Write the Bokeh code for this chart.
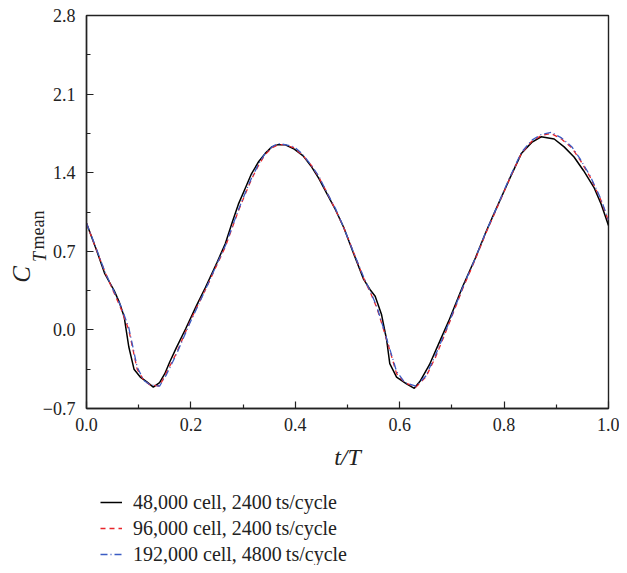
from bokeh.plotting import figure
from bokeh.layouts import column
from bokeh.models import FixedTicker, Legend, LegendItem, Range1d, Title
from bokeh.embed import file_html
from bokeh.resources import INLINE

# ---------------- data ----------------
t_48k = [0.00, 0.02, 0.035, 0.053, 0.0625, 0.072, 0.081, 0.091, 0.103, 0.115,
         0.128, 0.14, 0.15, 0.159, 0.172, 0.19, 0.21, 0.228, 0.25, 0.266,
         0.28, 0.291, 0.305, 0.316, 0.33, 0.342, 0.355, 0.367, 0.38, 0.398,
         0.415, 0.43, 0.445, 0.461, 0.477, 0.493, 0.51, 0.531, 0.543, 0.553,
         0.565, 0.575, 0.581, 0.594, 0.613, 0.628, 0.64, 0.657, 0.675, 0.694,
         0.72, 0.745, 0.765, 0.783, 0.81, 0.833, 0.853, 0.871, 0.896, 0.915,
         0.934, 0.952, 0.972, 0.986, 1.0]
ct_48k = [0.95, 0.70, 0.50, 0.35, 0.25, 0.12, -0.15, -0.35, -0.42, -0.46,
          -0.51, -0.47, -0.39, -0.29, -0.16, 0.01, 0.21, 0.38, 0.60, 0.77,
          0.97, 1.12, 1.27, 1.39, 1.50, 1.57, 1.63, 1.65, 1.65, 1.61,
          1.55, 1.46, 1.35, 1.21, 1.07, 0.91, 0.70, 0.45, 0.36, 0.30,
          0.14, -0.09, -0.30, -0.42, -0.48, -0.52, -0.45, -0.31, -0.12, 0.08,
          0.38, 0.64, 0.87, 1.06, 1.34, 1.57, 1.67, 1.72, 1.70, 1.63,
          1.54, 1.42, 1.27, 1.12, 0.93]

t_96k = [0.00, 0.02, 0.035, 0.05, 0.066, 0.081, 0.097, 0.11, 0.122, 0.14,
         0.153, 0.172, 0.197, 0.21, 0.228, 0.25, 0.266, 0.28, 0.291, 0.305,
         0.316, 0.33, 0.342, 0.355, 0.367, 0.38, 0.398, 0.415, 0.43, 0.445,
         0.461, 0.477, 0.493, 0.51, 0.531, 0.545, 0.556, 0.568, 0.581, 0.594,
         0.61, 0.631, 0.65, 0.669, 0.694, 0.72, 0.745, 0.765, 0.783, 0.81,
         0.833, 0.853, 0.871, 0.89, 0.91, 0.93, 0.946, 0.965, 0.985, 1.0]
ct_96k = [0.95, 0.70, 0.52, 0.36, 0.19, 0.0, -0.35, -0.45, -0.49, -0.50,
          -0.38, -0.21, 0.06, 0.19, 0.36, 0.58, 0.74, 0.92, 1.06, 1.22,
          1.34, 1.47, 1.56, 1.62, 1.65, 1.65, 1.62, 1.55, 1.47, 1.36,
          1.22, 1.07, 0.91, 0.71, 0.46, 0.32, 0.20, 0.02, -0.18, -0.39,
          -0.47, -0.51, -0.42, -0.24, 0.05, 0.36, 0.63, 0.86, 1.05, 1.34,
          1.57, 1.68, 1.73, 1.75, 1.70, 1.62, 1.51, 1.36, 1.16, 0.97]

t_192k = [0.00, 0.02, 0.035, 0.05, 0.066, 0.081, 0.097, 0.11, 0.122, 0.14,
          0.153, 0.172, 0.197, 0.21, 0.228, 0.25, 0.266, 0.28, 0.291, 0.305,
          0.316, 0.33, 0.342, 0.355, 0.367, 0.38, 0.398, 0.415, 0.43, 0.445,
          0.461, 0.477, 0.493, 0.51, 0.531, 0.545, 0.556, 0.568, 0.581, 0.594,
          0.61, 0.631, 0.65, 0.669, 0.694, 0.72, 0.745, 0.765, 0.783, 0.81,
          0.833, 0.853, 0.871, 0.89, 0.91, 0.93, 0.946, 0.965, 0.985, 1.0]
ct_192k = [0.95, 0.71, 0.52, 0.37, 0.21, 0.02, -0.33, -0.45, -0.49, -0.50,
           -0.40, -0.22, 0.05, 0.18, 0.36, 0.59, 0.75, 0.93, 1.07, 1.23,
           1.35, 1.48, 1.57, 1.63, 1.66, 1.65, 1.63, 1.56, 1.47, 1.37,
           1.22, 1.08, 0.91, 0.71, 0.47, 0.33, 0.21, 0.03, -0.17, -0.37,
           -0.47, -0.50, -0.41, -0.22, 0.06, 0.37, 0.64, 0.87, 1.06, 1.35,
           1.58, 1.69, 1.74, 1.76, 1.71, 1.63, 1.52, 1.37, 1.17, 0.98]

series_labels = ["48,000 cell, 2400\u2009ts/cycle",
                 "96,000 cell, 2400\u2009ts/cycle",
                 "192,000 cell, 4800\u2009ts/cycle"]

x_ticks = [0.0, 0.2, 0.4, 0.6, 0.8, 1.0]
x_minor = [0.1, 0.3, 0.5, 0.7, 0.9]
x_tick_labels = ["0.0", "0.2", "0.4", "0.6", "0.8", "1.0"]
y_ticks = [-0.7, 0.0, 0.7, 1.4, 2.1, 2.8]
y_minor = [-0.35, 0.35, 1.05, 1.75, 2.45]
y_tick_labels = ["\u22120.7", "0.0", "0.7", "1.4", "2.1", "2.8"]

FONT = "Liberation Serif"
INK = "#222222"
TOTAL_W, TOTAL_H = 619, 565
TOP_H = 476
LEG_H = TOTAL_H - TOP_H
FRAME_LEFT = 86
NBSP = "\u00a0"

COLORS = ["black", "#e8252b", "#3b5cc4"]
DASHES = ["solid", "5 4", "7 3 1 3"]
WIDTHS = [1.5, 1.3, 1.3]
series = [(t_48k, ct_48k), (t_96k, ct_96k), (t_192k, ct_192k)]

# ---------------- main plot ----------------
p = figure(width=TOTAL_W, height=TOP_H, output_backend="svg",
           toolbar_location=None,
           x_range=Range1d(0, 1), y_range=Range1d(-0.7, 2.8),
           min_border_left=FRAME_LEFT, min_border_right=11, min_border_top=15,
           min_border_bottom=68)
p.grid.visible = False
p.outline_line_color = INK
p.outline_line_width = 1.4

for ax, ticks, minor, labels in ((p.xaxis[0], x_ticks, x_minor, x_tick_labels),
                                 (p.yaxis[0], y_ticks, y_minor, y_tick_labels)):
    ax.ticker = FixedTicker(ticks=ticks, minor_ticks=minor)
    ax.major_label_overrides = {t: l for t, l in zip(ticks, labels)}
    ax.axis_line_color = INK
    ax.axis_line_width = 1.4
    ax.major_tick_line_color = INK
    ax.minor_tick_line_color = INK
    ax.major_tick_line_width = 1.2
    ax.minor_tick_line_width = 1.2
    ax.major_tick_in = 7
    ax.major_tick_out = 0
    ax.minor_tick_in = 4
    ax.minor_tick_out = 0
    ax.major_label_text_font = FONT
    ax.major_label_text_font_size = "18px"
    ax.major_label_text_color = INK

p.xaxis.major_label_standoff = 9
p.yaxis.major_label_standoff = 11

p.xaxis.axis_label = "t/T"
p.xaxis.axis_label_text_font = FONT
p.xaxis.axis_label_text_font_style = "italic"
p.xaxis.axis_label_text_font_size = "24px"
p.xaxis.axis_label_text_color = INK
p.xaxis.axis_label_standoff = 10

# y-axis label C_{T mean}: rotated titles in the left panel; trailing
# no-break spaces move each centred piece down to its place below centre.
sub_t = Title(text="T" + NBSP * 20, text_font=FONT, text_font_size="18px",
              text_font_style="italic", text_color=INK,
              align="center", standoff=-21.8)
sub_mean = Title(text="mean" + NBSP * 8, text_font=FONT, text_font_size="18px",
                 text_font_style="normal", text_color=INK,
                 align="center", standoff=-17.3)
main_c = Title(text="C" + NBSP * 20, text_font=FONT, text_font_size="25px",
               text_font_style="italic", text_color=INK,
               align="center", standoff=0)
p.add_layout(sub_t, "left")
p.add_layout(sub_mean, "left")
p.add_layout(main_c, "left")

for (tx, cy), c, d, w in zip(series, COLORS, DASHES, WIDTHS):
    p.line(tx, cy, line_color=c, line_width=w, line_dash=d)

# ---------------- legend strip below the plot ----------------
# The same series are drawn here far outside the visible y-range, so only
# their legend entries show. Its frame lines up with the main plot's frame.
leg = figure(width=TOTAL_W, height=LEG_H, output_backend="svg",
             toolbar_location=None, x_axis_location=None, y_axis_location=None,
             x_range=Range1d(0, 1), y_range=Range1d(100, 101), min_border=0)
leg.grid.visible = False
leg.outline_line_color = None
items = []
for (tx, cy), lbl, c, d, w in zip(series, series_labels, COLORS, DASHES, WIDTHS):
    r = leg.line(tx, cy, line_color=c, line_width=w, line_dash=d)
    items.append(LegendItem(label=lbl, renderers=[r]))
legend = Legend(items=items, location=(100 - FRAME_LEFT, -1), orientation="vertical",
                border_line_alpha=0, background_fill_alpha=0,
                padding=0, margin=0, spacing=2,
                glyph_width=22, glyph_height=24, label_height=24,
                label_standoff=11,
                label_text_font=FONT, label_text_font_size="20px",
                label_text_color=INK)
leg.add_layout(legend)

layout = column(p, leg)
open("out.html", "w").write(file_html(layout, INLINE))
